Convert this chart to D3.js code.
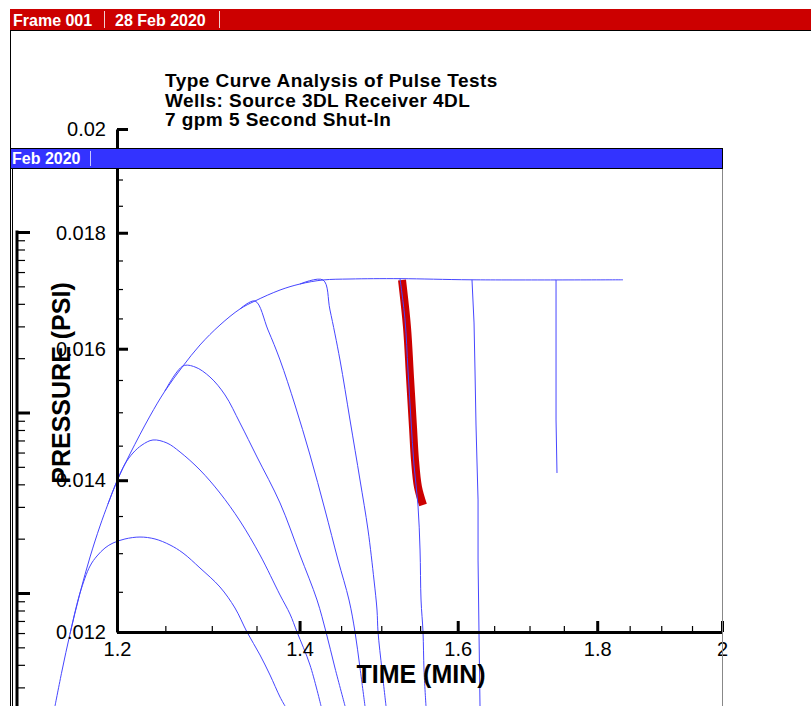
<!DOCTYPE html>
<html lang="en">
<head>
<meta charset="utf-8">
<title>Type Curve Analysis of Pulse Tests</title>
<script src="https://cdn.jsdelivr.net/npm/d3@7"></script>
<style>
  body { margin: 0; background: #fff; }
  svg { display: block; font-family: "Liberation Sans", Arial, Helvetica, sans-serif; }
</style>
</head>
<body>
<script>
// axis ticks
var timeTicks = [1.2, 1.4, 1.6, 1.8, 2];
var pressureTicks = [0.012, 0.014, 0.016, 0.018, 0.02];
var titleLines = ["Type Curve Analysis of Pulse Tests",
                  "Wells: Source 3DL Receiver 4DL",
                  "7 gpm 5 Second Shut-In"];

// type curves, [time (min), pressure (psi)]
var envelope = [[1.1388,0.011131],[1.1455,0.011534],[1.1533,0.011976],[1.1631,0.012485],[1.1730,0.012950],
  [1.1829,0.013364],[1.1909,0.013666],[1.2000,0.013989],[1.2132,0.014378],[1.2339,0.014943],[1.2496,0.015328],
  [1.2688,0.015722],[1.2871,0.016061],[1.3090,0.016390],[1.3313,0.016659],[1.3483,0.016795],[1.3771,0.016983],
  [1.4005,0.017087],[1.4280,0.017157],[1.4609,0.017174],[1.5239,0.01718],[1.6194,0.01716],[1.8396,0.01716]];
var curve1 = [[1.1533,0.011976],[1.1631,0.012485],[1.1730,0.012832],[1.1799,0.012963],[1.1879,0.013069],
  [1.1960,0.013135],[1.2081,0.013189],[1.2235,0.013215],[1.2391,0.013189],[1.2549,0.013109],[1.2688,0.013002],
  [1.2871,0.012806],[1.3090,0.012561],[1.3257,0.012296],[1.3392,0.012],[1.3540,0.011723],[1.3655,0.011487],
  [1.3771,0.011233],[1.3829,0.011131]];
var curve2 = [[1.1909,0.013666],[1.2000,0.013989],[1.2081,0.014233],[1.2163,0.014392],[1.2256,0.014510],
  [1.2370,0.014584],[1.2517,0.014539],[1.2656,0.014407],[1.2871,0.014146],[1.3090,0.013819],[1.3313,0.013432],
  [1.3540,0.012976],[1.3771,0.012459],[1.3887,0.012221],[1.3970,0.012],[1.4124,0.011604],[1.4256,0.011131]];
var curve3 = [[1.2496,0.015328],[1.2688,0.015722],[1.2817,0.015706],[1.2980,0.015547],[1.3146,0.015266],
  [1.3313,0.014838],[1.3506,0.014334],[1.3771,0.013680],[1.4005,0.012976],[1.4208,0.012396],[1.4316,0.012],
  [1.4425,0.011569],[1.4548,0.011131]];
var curve4 = [[1.3313,0.016659],[1.3483,0.016795],[1.3632,0.016307],[1.3771,0.015818],[1.3946,0.015111],
  [1.4124,0.014363],[1.4304,0.013583],[1.4462,0.012910],[1.4597,0.012396],[1.4671,0.012],[1.4733,0.011569],
  [1.4795,0.011131]];
var curve5 = [[1.4005,0.017087],[1.4280,0.017157],[1.4364,0.016642],[1.4486,0.015818],[1.4609,0.014883],
  [1.4733,0.014003],[1.4833,0.013310],[1.4908,0.012651],[1.4946,0.012271],[1.4959,0.012],[1.5009,0.011546],
  [1.5060,0.011131]];
var curve6 = [[1.5239,0.01718],[1.5304,0.016474],[1.5342,0.015658],[1.5381,0.014883],[1.5420,0.014218],
  [1.5472,0.013652],[1.5499,0.013042],[1.5512,0.012396],[1.5538,0.012],[1.5551,0.011546],[1.5577,0.011131]];
var curve7 = [[1.6194,0.01716],[1.6222,0.016424],[1.6235,0.015658],[1.6249,0.014807],[1.6263,0.014247],
  [1.6277,0.013722],[1.6277,0.012910],[1.6290,0.012],[1.6304,0.011131]];
var curve8 = [[1.7385,0.01716],[1.7385,0.014883],[1.7399,0.014103]];

// measured receiver response
var observed = [[1.5265,0.017157],[1.5329,0.016357],[1.5368,0.015547],[1.5407,0.014777],
  [1.5433,0.014290],[1.5472,0.013904],[1.5538,0.013652]];

var w = 811, h = 706;
var svg = d3.select("body").append("svg").attr("width", w).attr("height", h);
svg.append("rect").attr("width", w).attr("height", h).attr("fill", "#fff");

var x = d3.scaleLog().domain([1.2, 2]).range([117, 722]);
var y = d3.scaleLog().domain([0.012, 0.02]).range([632, 129]);

var xMinor = d3.range(24, 41).filter(function(i) { return i % 4 != 0; }).map(function(i) { return i / 20; });
var yMinor = d3.range(24, 41).filter(function(i) { return i % 4 != 0; }).map(function(i) { return i / 2000; });

// frame 1 border + header
svg.append("line").attr("x1", 10.5).attr("x2", 10.5).attr("y1", 9).attr("y2", h)
   .attr("stroke", "#000").attr("stroke-width", 1);
svg.append("rect").attr("x", 10).attr("y", 9).attr("width", w - 10).attr("height", 21).attr("fill", "#cc0000");
svg.append("line").attr("x1", 10).attr("x2", w).attr("y1", 30.5).attr("y2", 30.5).attr("stroke", "#000");
svg.append("text").attr("x", 13).attr("y", 26).text("Frame 001")
   .attr("fill", "#fff").attr("font-weight", "bold").attr("font-size", "16px");
svg.append("text").attr("x", 115).attr("y", 26).text("28 Feb 2020")
   .attr("fill", "#fff").attr("font-weight", "bold").attr("font-size", "16px");
[104.5, 219.5].forEach(function(sx) {
  svg.append("line").attr("x1", sx).attr("x2", sx).attr("y1", 11).attr("y2", 28)
     .attr("stroke", "#f0d0d0").attr("stroke-width", 1);
});

// title
svg.selectAll("text.title")
   .data(titleLines)
   .enter()
   .append("text")
   .attr("class", "title")
   .attr("x", 165)
   .attr("y", function(d, i) { return 87 + i * 19.5; })
   .attr("font-size", "19px")
   .attr("letter-spacing", "0.45px")
   .attr("font-weight", "bold")
   .text(function(d) { return d; });

// leftover log axis along the left edge
var ghost = d3.scaleLog().domain([1, 0.001]).range([232, 773.5]);
var ghostMajor = [1, 0.1, 0.01];
var ghostMinor = ghost.ticks().filter(function(v) {
  return ghostMajor.indexOf(v) < 0 && v > 0.0015;
});
svg.append("line").attr("x1", 12.5).attr("x2", 12.5).attr("y1", 169).attr("y2", h).attr("stroke", "#000");
var gg = svg.append("g").attr("transform", "translate(17,0)");
gg.append("g").call(d3.axisRight(ghost).tickValues(ghostMinor).tickSizeInner(8).tickSizeOuter(0).tickFormat(""))
  .call(function(g) {
    g.select(".domain").remove();
    g.selectAll(".tick line").attr("stroke-width", 1.2);
  });
gg.append("g").call(d3.axisRight(ghost).tickValues(ghostMajor).tickSizeInner(13).tickSizeOuter(0).tickFormat(""))
  .call(function(g) {
    g.select(".domain").remove();
    g.selectAll(".tick line").attr("stroke-width", 3);
  });
gg.append("line").attr("x1", 0).attr("x2", 0).attr("y1", 230.5).attr("y2", h)
  .attr("stroke", "#000").attr("stroke-width", 3);

// data
var line = d3.line()
  .x(function(d) { return x(d[0]); })
  .y(function(d) { return y(d[1]); });

svg.append("path")
   .datum(observed)
   .attr("d", line.curve(d3.curveCatmullRom.alpha(0.5)))
   .attr("fill", "none")
   .attr("stroke", "#cc0000")
   .attr("stroke-width", 8);

var smoothCurves = [envelope, curve1, curve2, curve3, curve4, curve5, curve6];
svg.selectAll("path.tc")
   .data(smoothCurves)
   .enter()
   .append("path")
   .attr("class", "tc")
   .attr("d", line.curve(d3.curveCatmullRom.alpha(0.5)))
   .attr("fill", "none")
   .attr("stroke", "#4646ff")
   .attr("stroke-width", 1);

svg.selectAll("path.tv")
   .data([curve7, curve8])
   .enter()
   .append("path")
   .attr("class", "tv")
   .attr("d", line.curve(d3.curveLinear))
   .attr("fill", "none")
   .attr("stroke", "#4646ff")
   .attr("stroke-width", 1);

// main axes, ticks pointing inward
function styleMinor(g) {
  g.select(".domain").remove();
  g.selectAll(".tick line").attr("stroke-width", 1.2);
}
svg.append("g").attr("transform", "translate(0,632)")
   .call(d3.axisBottom(x).tickValues(xMinor).tickSizeInner(-6).tickSizeOuter(0).tickFormat(""))
   .call(styleMinor);
svg.append("g").attr("transform", "translate(117,0)")
   .call(d3.axisLeft(y).tickValues(yMinor).tickSizeInner(-6).tickSizeOuter(0).tickFormat(""))
   .call(styleMinor);

var xAxis = svg.append("g").attr("transform", "translate(0,632)")
   .call(d3.axisBottom(x).tickValues(timeTicks).tickSizeInner(-11).tickSizeOuter(0)
         .tickPadding(10).tickFormat(d3.format("")));
var yAxis = svg.append("g").attr("transform", "translate(117,0)")
   .call(d3.axisLeft(y).tickValues(pressureTicks).tickSizeInner(-11).tickSizeOuter(0)
         .tickPadding(11).tickFormat(d3.format("")));
[xAxis, yAxis].forEach(function(g) {
  g.attr("font-family", null).attr("font-size", "20px");
  g.select(".domain").attr("stroke-width", 3);
  g.selectAll(".tick line").attr("stroke-width", 3);
  g.selectAll(".tick text").attr("fill", "#000");
});

svg.append("text")
   .attr("x", 421).attr("y", 683)
   .attr("text-anchor", "middle")
   .attr("font-size", "25px").attr("font-weight", "bold")
   .text("TIME (MIN)");
svg.append("text")
   .attr("transform", "translate(70,383) rotate(-90)")
   .attr("text-anchor", "middle")
   .attr("font-size", "25px").attr("font-weight", "bold")
   .text("PRESSURE (PSI)");

// frame 2 header, drawn over the plot
svg.append("line").attr("x1", 722.5).attr("x2", 722.5).attr("y1", 148).attr("y2", h)
   .attr("stroke", "#888").attr("stroke-width", 1);
svg.append("rect").attr("x", 10.5).attr("y", 148.5).attr("width", 712).attr("height", 20)
   .attr("fill", "#3333ff").attr("stroke", "#000").attr("stroke-width", 1);
svg.append("text").attr("x", 12).attr("y", 164).text("Feb 2020")
   .attr("fill", "#fff").attr("font-weight", "bold").attr("font-size", "16px");
svg.append("line").attr("x1", 90.5).attr("x2", 90.5).attr("y1", 151).attr("y2", 166)
   .attr("stroke", "#c8c8ff").attr("stroke-width", 1);
</script>
</body>
</html>
